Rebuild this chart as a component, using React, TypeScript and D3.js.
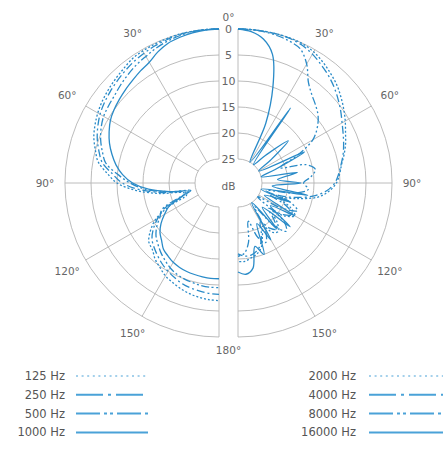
import { useEffect, useRef } from 'react';
import * as d3 from 'd3';

// sample angles (degrees from the mic axis) for every curve
const angles = [
  0, 5, 10, 15, 20, 25, 30, 35, 40, 45, 50, 55, 60, 65, 70, 75, 80, 85, 90,
  95, 100, 105, 110, 115, 120, 125, 130, 135, 140, 145, 150, 155, 160, 165, 170, 175, 180,
];

// attenuation in dB, left half
const db125 = [0, 0, 0, 0, 0.1, 0.2, 0.3, 0.5, 1.0, 1.4, 1.8, 2.2, 2.7, 3.3, 4.0, 5.0, 6.0, 8.0, 10.0, 13.5, 18.0, 22.5, 23.0, 19.0, 15.5, 13.5, 12.0, 11.5, 10.5, 9.8, 9.0, 8.5, 8.0, 7.6, 7.3, 7.1, 7.0];
const db250 = [0, 0, 0, 0.1, 0.3, 0.5, 0.8, 1.1, 1.5, 1.9, 2.3, 2.7, 3.2, 3.9, 4.7, 5.7, 6.8, 9.0, 11.0, 14.5, 19.0, 23.0, 22.0, 18.0, 16.0, 14.2, 12.8, 12.0, 11.3, 10.6, 10.0, 9.5, 9.0, 8.7, 8.5, 8.3, 8.2];
const db500 = [0, 0, 0.1, 0.3, 0.6, 1.0, 1.5, 1.9, 2.4, 2.9, 3.4, 3.7, 4.0, 4.6, 5.4, 6.4, 7.5, 10.0, 12.5, 15.5, 20.0, 24.0, 21.5, 17.5, 16.5, 15.0, 13.8, 13.0, 12.2, 11.5, 10.8, 10.3, 10.0, 9.8, 9.6, 9.5, 9.5];
const db1000 = [0, 0.1, 0.3, 0.6, 1.0, 1.8, 2.8, 3.3, 3.8, 4.2, 4.6, 5.0, 5.5, 6.3, 7.2, 8.3, 9.5, 11.0, 13.0, 16.0, 20.0, 23.5, 22.0, 19.0, 17.5, 16.0, 14.8, 14.0, 13.0, 12.5, 12.0, 11.7, 11.5, 11.4, 11.3, 11.2, 11.2];

// attenuation in dB, right half
const db2000 = [0, 0, 0, 0, 0, 0.1, 0.5, 1.2, 2.0, 2.8, 3.8, 4.8, 5.8, 6.8, 7.6, 8.5, 9.4, 10.0, 10.7, 12.0, 14.0, 18.0, 21.0, 18.5, 17.0, 18.5, 21.0, 19.0, 17.5, 18.0, 20.0, 18.5, 16.5, 15.5, 15.0, 14.5, 14.5];
const db4000 = [0, 0, 0, 0, 0.1, 0.4, 1.0, 1.8, 2.6, 3.5, 4.5, 5.5, 6.5, 7.3, 8.0, 8.7, 9.5, 10.2, 11.0, 12.5, 15.0, 19.0, 23.0, 19.5, 17.5, 19.0, 22.0, 20.0, 18.0, 19.0, 21.0, 19.0, 17.0, 16.0, 15.5, 15.5, 16.0];
const db8000 = [0, 0, 0.1, 0.3, 0.6, 1.2, 3.2, 6.0, 7.5, 8.5, 9.5, 11.0, 13.0, 17.0, 21.0, 16.0, 14.5, 15.5, 17.0, 16.0, 18.5, 24.0, 19.0, 17.0, 20.0, 25.0, 18.0, 16.5, 19.0, 24.0, 19.0, 17.0, 18.5, 22.0, 18.0, 16.0, 15.5];
const db16000 = [0, 0.4, 1.5, 4.0, 10.0, 17.0, 25.0, 12.0, 25.0, 22.0, 17.0, 22.0, 25.0, 15.5, 22.0, 25.0, 18.0, 22.0, 17.5, 23.0, 16.0, 25.0, 19.0, 24.0, 17.0, 22.0, 16.5, 23.0, 18.0, 25.0, 17.0, 21.0, 15.0, 17.0, 13.0, 12.0, 12.5];

const leftLabels = ['125 Hz', '250 Hz', '500 Hz', '1000 Hz'];
const rightLabels = ['2000 Hz', '4000 Hz', '8000 Hz', '16000 Hz'];
const leftSeries = [db125, db250, db500, db1000];
const rightSeries = [db2000, db4000, db8000, db16000];

const dbTicks = [0, 5, 10, 15, 20, 25];
const spokeAngles = [30, 60, 90, 120, 150];

export default function App() {
  const svgRef = useRef<SVGSVGElement>(null);

  useEffect(() => {
    if (!svgRef.current) return;
    const svg = d3.select(svgRef.current);
    svg.selectAll('*').remove();

    const cy = 183;
    const cxL = 219;
    const cxR = 238;
    const cxMid = (cxL + cxR) / 2;
    const gridColor = '#b4b4b4';
    const textColor = '#666';
    const curveColor = '#2a8bc8';
    const font = 'DejaVu Sans, sans-serif';

    const r = d3.scaleLinear().domain([25, 0]).range([24, 154]).clamp(true);
    const rad = (a: number) => (a * Math.PI) / 180;

    // dash patterns: chart / legend
    const plotDash = ['2,2', '8,3,2,3', '8,2.5,2,2.5,2,2.5', null];
    const legendDash = ['2,3.6', '27,5,3,5', '24,4,3,3,3,4', null];

    const halves = [
      { cx: cxL, side: -1, series: leftSeries },
      { cx: cxR, side: 1, series: rightSeries },
    ];

    halves.forEach(({ cx, side, series }) => {
      const g = svg.append('g');

      // circles
      dbTicks.forEach(d => {
        const p = d3.path();
        p.arc(cx, cy, r(d), -Math.PI / 2, Math.PI / 2, side < 0);
        g.append('path')
          .attr('d', p.toString())
          .attr('fill', 'none')
          .attr('stroke', gridColor)
          .attr('stroke-width', 0.9);
      });

      // spokes incl. 0 and 180
      [0, ...spokeAngles, 180].forEach(a => {
        const s = Math.sin(rad(a)) * side;
        const c = Math.cos(rad(a));
        g.append('line')
          .attr('x1', cx + s * r(25))
          .attr('y1', cy - c * r(25))
          .attr('x2', cx + s * r(0))
          .attr('y2', cy - c * r(0))
          .attr('stroke', gridColor)
          .attr('stroke-width', 0.9);
      });

      // angle labels
      spokeAngles.forEach(a => {
        const s = Math.sin(rad(a));
        const c = Math.cos(rad(a));
        const re = 161 + Math.abs(s) * 13 + Math.abs(c) * 6;
        g.append('text')
          .attr('x', cx + side * s * re)
          .attr('y', cy - c * re)
          .attr('text-anchor', 'middle')
          .attr('dominant-baseline', 'central')
          .style('font-family', font)
          .style('font-size', '10.5px')
          .style('fill', textColor)
          .text(`${a}°`);
      });

      // curves
      const line = d3
        .lineRadial<number>()
        .angle((_, i) => side * rad(angles[i]))
        .radius(d => r(d))
        .curve(d3.curveCatmullRom.alpha(0.5));

      series.forEach((vals, i) => {
        const path = g
          .append('path')
          .attr('transform', `translate(${cx},${cy})`)
          .attr('d', line(vals))
          .attr('fill', 'none')
          .attr('stroke', curveColor)
          .attr('stroke-width', 1.3);
        if (plotDash[i]) path.attr('stroke-dasharray', plotDash[i] as string);
      });
    });

    // dB tick labels in the gap
    dbTicks.forEach(d => {
      svg
        .append('text')
        .attr('x', cxMid)
        .attr('y', cy - r(d))
        .attr('text-anchor', 'middle')
        .attr('dominant-baseline', 'central')
        .style('font-family', font)
        .style('font-size', '11px')
        .style('fill', textColor)
        .text(d);
    });

    svg.append('text')
      .attr('x', cxMid)
      .attr('y', cy + 3)
      .attr('text-anchor', 'middle')
      .attr('dominant-baseline', 'central')
      .style('font-family', font)
      .style('font-size', '10.5px')
      .style('fill', textColor)
      .text('dB');

    svg.append('text')
      .attr('x', cxMid)
      .attr('y', 17)
      .attr('text-anchor', 'middle')
      .attr('dominant-baseline', 'central')
      .style('font-family', font)
      .style('font-size', '10.5px')
      .style('fill', textColor)
      .text('0°');

    svg.append('text')
      .attr('x', cxMid)
      .attr('y', 350)
      .attr('text-anchor', 'middle')
      .attr('dominant-baseline', 'central')
      .style('font-family', font)
      .style('font-size', '10.5px')
      .style('fill', textColor)
      .text('180°');

    // legend
    const legendCols = [
      { labels: leftLabels, textX: 65, x1: 76, x2: 148 },
      { labels: rightLabels, textX: 356, x1: 369, x2: 443 },
    ];
    legendCols.forEach(col => {
      col.labels.forEach((lab, i) => {
        const y = 376 + i * 18.8;
        svg.append('text')
          .attr('x', col.textX)
          .attr('y', y)
          .attr('text-anchor', 'end')
          .attr('dominant-baseline', 'central')
          .style('font-family', font)
          .style('font-size', '11.5px')
          .style('fill', '#555')
          .text(lab);
        const ln = svg.append('line')
          .attr('x1', col.x1)
          .attr('x2', col.x2)
          .attr('y1', y)
          .attr('y2', y)
          .attr('stroke', '#4aa2d8')
          .attr('stroke-width', i === 0 ? 1.2 : 2);
        if (legendDash[i]) ln.attr('stroke-dasharray', legendDash[i] as string);
      });
    });
  }, []);

  return (
    <div style={{ position: 'absolute', left: 0, top: 0, background: '#fff' }}>
      <svg ref={svgRef} width={444} height={453} />
    </div>
  );
}
